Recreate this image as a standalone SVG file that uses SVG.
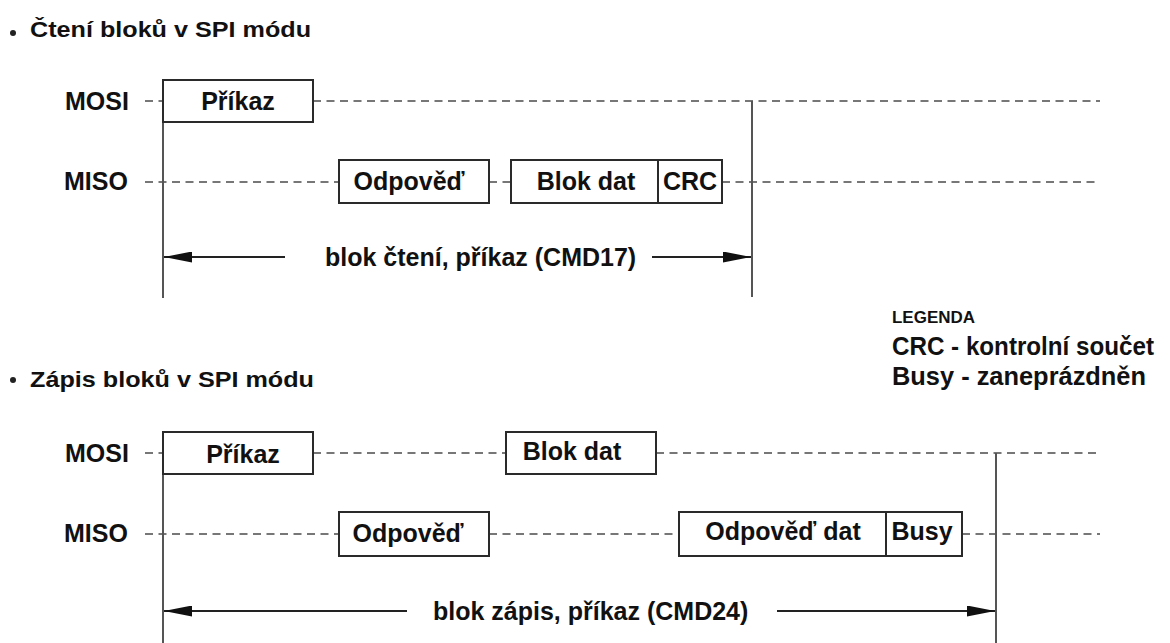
<svg xmlns="http://www.w3.org/2000/svg" width="1170" height="643" viewBox="0 0 1170 643">
<style>
  text { font-family: "Liberation Sans", Arial, sans-serif; font-weight: bold; fill: #111; }
  .lbl { font-size: 25px; }
  .ttl { font-size: 22px; }
  .box { fill: #fff; stroke: #2a2a2a; stroke-width: 2; }
  .dash { stroke: #777; stroke-width: 2.2; stroke-dasharray: 8 5.5; fill: none; }
  .vline { stroke: #555; stroke-width: 2; fill: none; }
  .arr { stroke: #222; stroke-width: 2; fill: none; marker-end: url(#ah); }
</style>
<defs>
  <marker id="ah" viewBox="0 0 28 11" refX="28" refY="5.5" markerWidth="28" markerHeight="11" markerUnits="userSpaceOnUse" orient="auto">
    <path d="M0,0 L28,5.5 L0,11 Z" fill="#111"/>
  </marker>
</defs>
<rect width="1170" height="643" fill="#fff"/>

<g id="titles">
  <circle cx="13" cy="33" r="3" fill="#222"/>
  <text class="ttl" x="30" y="37" textLength="281" lengthAdjust="spacingAndGlyphs">Čtení bloků v SPI módu</text>
  <circle cx="13" cy="380" r="3" fill="#222"/>
  <text class="ttl" x="30" y="387" textLength="284" lengthAdjust="spacingAndGlyphs">Zápis bloků v SPI módu</text>
</g>

<g id="connectors">
  <!-- read section -->
  <path class="dash" d="M145,101 H163 M313,101 H1100"/>
  <path class="dash" d="M145,182 H339 M489,182 H511 M722,182 H1100"/>
  <path class="vline" d="M163,79 V298"/>
  <path class="vline" d="M752,101 V297"/>
  <path class="arr" d="M285,257 H164"/>
  <path class="arr" d="M652,257 H751"/>
  <!-- write section -->
  <path class="dash" d="M145,453 H163 M313,453 H506 M656,453 H1100"/>
  <path class="dash" d="M145,534 H339 M489,534 H679 M962,534 H1100"/>
  <path class="vline" d="M163,432 V643"/>
  <path class="vline" d="M996,453 V643"/>
  <path class="arr" d="M407,611 H164"/>
  <path class="arr" d="M777,611 H995"/>
</g>

<g id="signal-labels">
  <text class="lbl" x="65" y="110">MOSI</text>
  <text class="lbl" x="64" y="190">MISO</text>
  <text class="lbl" x="65" y="462">MOSI</text>
  <text class="lbl" x="64" y="542">MISO</text>
</g>

<g id="read-cmd">
  <rect class="box" x="163" y="80" width="150" height="42"/>
  <text class="lbl" x="238" y="110" text-anchor="middle">Příkaz</text>
</g>
<g id="read-resp">
  <rect class="box" x="339" y="160" width="150" height="43"/>
  <text class="lbl" x="409" y="190" text-anchor="middle">Odpověď</text>
</g>
<g id="read-data">
  <rect class="box" x="511" y="160" width="147" height="43"/>
  <text class="lbl" x="586" y="190" text-anchor="middle">Blok dat</text>
</g>
<g id="read-crc">
  <rect class="box" x="658" y="160" width="64" height="43"/>
  <text class="lbl" x="690" y="190" text-anchor="middle">CRC</text>
</g>
<g id="read-span">
  <text class="lbl" x="325" y="266">blok čtení, příkaz (CMD17)</text>
</g>

<g id="legend">
  <text x="892" y="323" font-size="16" textLength="83" lengthAdjust="spacingAndGlyphs">LEGENDA</text>
  <text x="892" y="355" font-size="25" textLength="262" lengthAdjust="spacingAndGlyphs">CRC - kontrolní součet</text>
  <text x="892" y="385" font-size="25" textLength="254" lengthAdjust="spacingAndGlyphs">Busy - zaneprázdněn</text>
</g>

<g id="write-cmd">
  <rect class="box" x="163" y="432" width="150" height="42"/>
  <text class="lbl" x="243" y="463" text-anchor="middle">Příkaz</text>
</g>
<g id="write-data">
  <rect class="box" x="506" y="432" width="150" height="42"/>
  <text class="lbl" x="572" y="460" text-anchor="middle">Blok dat</text>
</g>
<g id="write-resp">
  <rect class="box" x="339" y="512" width="150" height="44"/>
  <text class="lbl" x="408" y="542" text-anchor="middle">Odpověď</text>
</g>
<g id="write-dresp">
  <rect class="box" x="679" y="512" width="207" height="44"/>
  <text class="lbl" x="783" y="540" text-anchor="middle">Odpověď dat</text>
</g>
<g id="write-busy">
  <rect class="box" x="886" y="512" width="76" height="44"/>
  <text class="lbl" x="922" y="540" text-anchor="middle">Busy</text>
</g>
<g id="write-span">
  <text class="lbl" x="433" y="620">blok zápis, příkaz (CMD24)</text>
</g>
</svg>
